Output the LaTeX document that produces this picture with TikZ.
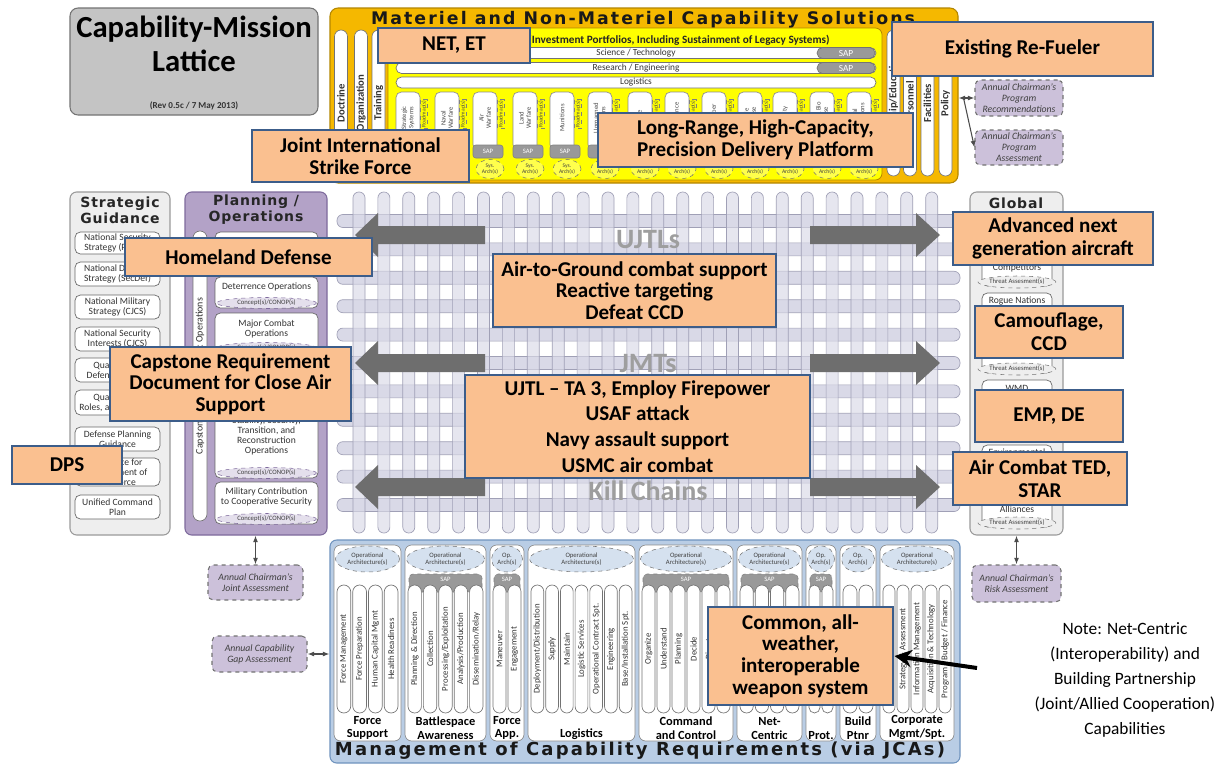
\documentclass[tikz,border=0pt]{standalone}
\usepackage{fontspec}
\setmainfont{Carlito}
\newfontfamily\widefont[LetterSpace=6]{DejaVu Sans}
\newfontfamily\widerfont[LetterSpace=12]{DejaVu Sans}
\usetikzlibrary{shapes.misc,shapes.geometric,fit,arrows.meta,calc}

\definecolor{callfill}{HTML}{FAC090}
\definecolor{callline}{HTML}{3C5D8A}
\definecolor{matgold}{HTML}{F5B800}
\definecolor{matedge}{HTML}{B38600}
\definecolor{matyellow}{HTML}{FFFF00}
\definecolor{titlegray}{HTML}{C4C4C4}
\definecolor{panelgray}{HTML}{EEEEEE}
\definecolor{paneledge}{HTML}{9A9A9A}
\definecolor{planpurple}{HTML}{B3A2C7}
\definecolor{planedge}{HTML}{7E6A9C}
\definecolor{mgmtblue}{HTML}{B9CDE5}
\definecolor{mgmtedge}{HTML}{6F93BE}
\definecolor{latfill}{HTML}{D9D9E7}
\definecolor{latline}{HTML}{A0A0B6}
\definecolor{arrowgray}{HTML}{6E6E6E}
\definecolor{assessfill}{HTML}{CCC1DA}
\definecolor{capfill}{HTML}{E4DFEC}

\tikzset{
  callout/.style={draw=callline, line width=2.2pt, fill=callfill, inner sep=0pt, align=center, text=black, font=\bfseries\fontsize{15.8}{16.3}\selectfont},
  panel/.style={draw=paneledge, line width=0.8pt, rounded corners=5pt, inner sep=0pt},
  widetitle/.style={font=\widefont\bfseries\fontsize{10.5}{12}\selectfont, align=center, text=black!85},
  itembox/.style={draw=black!60, fill=white, rounded corners=4pt, line width=0.5pt},
  itemtext/.style={font=\fontsize{7.2}{7.7}\selectfont, align=center, text=black!80},
  vpill/.style={rounded rectangle, rotate=90, draw=black!55, fill=white, inner sep=0pt, line width=0.5pt, text=black!80},
  hpill/.style={rounded rectangle, draw=black!55, fill=white, inner sep=0pt, line width=0.5pt, text=black!80, font=\fontsize{7}{7}\selectfont},
  dashell/.style={ellipse, draw=black!55, dashed, inner sep=0pt, align=center, text=black!75},
  assess/.style={draw=black!55, dashed, line width=0.8pt, fill=assessfill, rounded corners=4pt, inner sep=0pt, align=center, text=black!75, font=\itshape\fontsize{7.3}{8.3}\selectfont},
  latbar/.style={draw=latline, fill=latfill, line width=0.5pt, rounded corners=4.4pt},
  biglabel/.style={font=\bfseries\fontsize{21}{21}\selectfont, text=black!38},
  link/.style={{Latex[length=5pt]}-{Latex[length=5pt]}, draw=black!70, line width=0.8pt},
  onelink/.style={-{Latex[length=5pt]}, draw=black!70, line width=0.8pt},
}

% box node spanning two corners: style, name, x1, y1, x2, y2, text
\newcommand\boxnode[7]{%
  \node[#1, minimum width={(#5-#3)*0.75pt}, minimum height={(#6-#4)*0.75pt}] (#2) at ({(#3+#5)/2},{(#4+#6)/2}) {#7};}

% strategic guidance entry: top, bottom, text
\newcommand\sgitem[3]{%
  \draw[itembox] (75,#1) rectangle (160,#2);
  \node[itemtext] at (117.5,{(#1+#2)/2}) {#3};}

% planning entry: top, bottom, text y, text
\newcommand\pitem[4]{%
  \draw[itembox] (215,#1) rectangle (318,#2);
  \node[itemtext] at (266.5,#3) {#4};
  \node[dashell, fill=capfill, draw=planedge, minimum width=100*0.75pt, minimum height=11*0.75pt, font=\fontsize{5}{5}\selectfont] at (266.5,#2-5) {Concept(s)/CONOP(s)};}

% global threat entry: top, bottom
\newcommand\gbox[2]{%
  \draw[itembox] (982,#1) rectangle (1052,#2);
  \node[dashell, fill=panelgray, minimum width=72*0.75pt, minimum height=12*0.75pt, font=\fontsize{5}{5}\selectfont] at (1017,#2-4) {Threat Assesment(s)};}

% investment portfolio column: left x, label
\newcommand\portcol[2]{%
  \draw[itembox, draw=black!45] (#1,92) rectangle (#1+24,150);
  \node[rotate=90, font=\fontsize{5}{5.5}\selectfont, align=center, text=black!70] at (#1+12,118) {#2};
  \node[rotate=90, draw=black!50, dashed, fill=matyellow, font=\fontsize{4.2}{4.2}\selectfont, inner sep=0.6pt, text=black!70] at (#1+28,114) {Roadmap(s)};
  \draw[draw=black!50, fill=black!40, rounded corners=2pt] (#1,145) rectangle (#1+30,158);
  \node[font=\fontsize{5}{5}\selectfont, text=white] at (#1+15,151.5) {SAP};
  \node[dashell, fill=matyellow!70!white, minimum width=28*0.75pt, minimum height=19*0.75pt, font=\fontsize{4.2}{4.6}\selectfont] at (#1+17,169) {Sys.\\Arch(s)};}

% joint capability area column: x1, x2, architecture text, SAP flag, pill count, label, pills
\newcommand\jcacol[7]{%
  \draw[itembox, draw=black!45, rounded corners=5pt] (#1,545) rectangle (#2,741);
  \node[dashell, fill=mgmtblue!60, minimum width={(#2-#1-3)*0.75pt}, minimum height=26*0.75pt, font=\fontsize{5}{5.5}\selectfont] at ({(#1+#2)/2},559) {#3};
  \ifnum#4=1
    \draw[draw=black!50, dashed, fill=black!40, rounded corners=3pt] (#1+4,574) rectangle (#2-4,592);
    \node[font=\fontsize{5}{5}\selectfont, text=white] at ({(#1+#2)/2},579) {SAP};
  \fi
  \pgfmathsetmacro\pw{(#2-#1-6-(#5-1)*2)/#5}
  \foreach \t [count=\i] in {#7} {
    \pgfmathsetmacro\cx{#1+3+\pw/2+(\i-1)*(\pw+2)}
    \node[vpill, minimum width=128*0.75pt, minimum height=\pw*0.75pt, font=\fontsize{6.6}{6.6}\selectfont] at (\cx,649) {\t};
  }
  \node[font=\bfseries\fontsize{9.3}{10}\selectfont, align=center, anchor=south, inner sep=1pt] at ({(#1+#2)/2},741) {#6};}

% double-headed lattice arrows at height y
\newcommand\bigarrows[1]{%
  \fill[arrowgray] (355,#1) -- (378,#1-22) -- (378,#1-9) -- (485,#1-9) -- (485,#1+9) -- (378,#1+9) -- (378,#1+22) -- cycle;
  \fill[arrowgray] (940,#1) -- (916,#1-22) -- (916,#1-9) -- (810,#1-9) -- (810,#1+9) -- (916,#1+9) -- (916,#1+22) -- cycle;}

\begin{document}
\begin{tikzpicture}[x=0.75pt,y=-0.75pt]
\useasboundingbox (0,0) rectangle (1222,765);
\fill[white] (0,0) rectangle (1222,765);

% ---- title block
\node[fit={(70,8) (318,115)}, fill=titlegray, draw=black!55, line width=0.8pt, rounded corners=6pt, inner sep=0pt] (title) {};
\node[font=\bfseries\fontsize{23}{26}\selectfont, align=center] at (title.center |- 0,44) {Capability-Mission\\Lattice};
\node[font=\bfseries\fontsize{6.8}{7}\selectfont, text=black!80] at (title.center |- 0,106) {(Rev 0.5c / 7 May 2013)};

% ---- materiel and non-materiel solutions
\node[fit={(330,8) (958,183)}, fill=matgold, draw=matedge, line width=0.8pt, rounded corners=6pt, inner sep=0pt] (matbox) {};
\node[font=\widerfont\bfseries\fontsize{13}{13}\selectfont, text=black!90] at (643,20) {Materiel and Non-Materiel Capability Solutions};
\foreach \x/\t in {341/{Doctrine},361/{Organization},378.5/{Training},893.5/{Leadership/Education},910/{Personnel},927.5/{Facilities},945.5/{Policy}}
  \node[vpill, minimum width=146*0.75pt, minimum height=13*0.75pt, font=\bfseries\fontsize{8}{8}\selectfont] at (\x,103) {\t};
\draw[draw=matedge, fill=matyellow, rounded corners=5pt, line width=0.6pt] (388,28) rectangle (882,180);
\node[font=\bfseries\fontsize{8.4}{8.4}\selectfont, text=black!85] at (635,40) {Materiel Solutions (Investment Portfolios, Including Sustainment of Legacy Systems)};
\foreach \y/\t in {53/{Science / Technology},68/{Research / Engineering},82.5/{Logistics}}
  \node[hpill, minimum width=480*0.75pt, minimum height=11*0.75pt] at (636,\y) {\t};
\foreach \y in {53,68}
  \node[hpill, fill=black!40, minimum width=58*0.75pt, minimum height=11*0.75pt, text=white] at (846,\y) {SAP};
\portcol{396}{Strategic\\Systems}
\portcol{435}{Naval\\Warfare}
\portcol{473}{Air\\Warfare}
\portcol{513}{Land\\Warfare}
\portcol{550}{Munitions}
\portcol{588}{Unmanned\\Systems}
\portcol{628}{Space}
\portcol{665}{Intelligence}
\portcol{702}{C4 / Cyber}
\portcol{738}{Missile\\Defense}
\portcol{773}{Mobility}
\portcol{810}{Chem \& Bio\\Defense}
\portcol{847}{Special\\Operations}

% ---- strategic guidance
\node[panel, fit={(70,192) (170,535)}, fill=panelgray] (sg) {};
\node[widetitle] at (120,210) {Strategic\\Guidance};
\sgitem{232}{254}{National Security\\Strategy (POTUS)}
\sgitem{262}{286}{National Defense\\Strategy (SecDef)}
\sgitem{295}{319}{National Military\\Strategy (CJCS)}
\sgitem{327}{351}{National Security\\Interests (CJCS)}
\sgitem{358}{382}{Quadrennial\\Defense Review}
\sgitem{390}{415}{Quadrennial\\Roles, and Missions}
\sgitem{427}{451}{Defense Planning\\Guidance}
\sgitem{458}{486}{Guidance for\\Employment of\\the Force}
\sgitem{495}{519}{Unified Command\\Plan}

% ---- planning / operations
\node[panel, fit={(185,192) (327,535)}, fill=planpurple, draw=planedge] (plan) {};
\node[widetitle] at (256,210) {Planning /\\Operations};
\node[vpill, minimum width=290*0.75pt, minimum height=14*0.75pt, font=\fontsize{7.5}{7.5}\selectfont] at (200,376) {Capstone Concept for Joint Operations};
\pitem{232}{271}{247}{Homeland Defense /\\Civil Support}
\pitem{277}{308}{287}{Deterrence Operations}
\pitem{313}{353}{329}{Major Combat\\Operations}
\pitem{358}{478}{436}{Stability, Security,\\Transition, and\\Reconstruction\\Operations}
\pitem{482}{524}{497}{Military Contribution\\to Cooperative Security}

% ---- global threats
\node[panel, fit={(970,192) (1063,535)}, fill=panelgray] (glob) {};
\node[widetitle] at (1016,203) {Global};
\gbox{222}{286}
\node[itemtext] at (1017,268) {Competitors};
\gbox{293}{373}
\node[itemtext] at (1017,301) {Rogue Nations};
\gbox{380}{440}
\node[itemtext] at (1017,388) {WMD};
\gbox{445}{527}
\node[itemtext] at (1017,452) {Environmental};
\node[itemtext] at (1017,509) {Alliances};

% ---- woven lattice
\foreach \k in {0,...,10} {
  \pgfmathsetmacro\yy{221+28.4*\k}
  \draw[latbar] (337,\yy-6.5) rectangle (960,\yy+6.5);
}
\foreach \j in {0,...,23} {
  \pgfmathsetmacro\xx{359+24.9*\j}
  \draw[latbar, fill opacity=0.65] (\xx-6,192) rectangle (\xx+6,533);
}
\bigarrows{235}
\bigarrows{363}
\bigarrows{487}
\node[biglabel] (ujtls) at (648,240) {UJTLs};
\node[biglabel] (jmts) at (648,364) {JMTs};
\node[biglabel] (kill) at (648,491) {Kill Chains};

% ---- management of capability requirements
\node[panel, fit={(330,540) (960,763)}, fill=mgmtblue, draw=mgmtedge] (mgmt) {};
\node[font=\widerfont\bfseries\fontsize{13.5}{13.5}\selectfont, text=black!90] at (640,751) {Management of Capability Requirements (via JCAs)};
\jcacol{334}{401}{Operational\\Architecture(s)}{0}{4}{Force\\Support}{Force Management,Force Preparation,Human Capital Mgmt,Health Readiness}
\jcacol{405}{486}{Operational\\Architecture(s)}{1}{5}{Battlespace\\Awareness}{Planning \& Direction,Collection,Processing/Exploitation,Analysis/Production,Dissemination/Relay}
\jcacol{490}{524}{Op.\\Arch(s)}{1}{2}{Force\\App.}{Maneuver,Engagement}
\jcacol{528}{635}{Operational\\Architecture(s)}{0}{7}{Logistics}{Deployment/Distribution,Supply,Maintain,Logistic Services,Operational Contract Spt.,Engineering,Base/Installation Spt.}
\jcacol{639}{733}{Operational\\Architecture(s)}{1}{6}{Command\\and Control}{Organize,Understand,Planning,Decide,Direct,Monitor}
\jcacol{737}{802}{Operational\\Architecture(s)}{1}{4}{Net-\\Centric}{Information Transport,Enterprise Services,Net Management,Information Assurance}
\jcacol{806}{836}{Op.\\Arch(s)}{1}{2}{Prot.}{Prevent,Mitigate}
\jcacol{840}{876}{Op.\\Arch(s)}{0}{2}{Build\\Ptnr}{Communicate,Shape}
\jcacol{880}{954}{Operational\\Architecture(s)}{0}{5}{Corporate\\Mgmt/Spt.}{Advisory \& Compliance,Strategy \& Assessment,Information Management,Acquisition \& Technology,Program / Budget / Finance}

% ---- annual assessments
\boxnode{assess}{acpr}{975}{80}{1063}{116}{Annual Chairman's\\Program\\Recommendations}
\boxnode{assess}{acpa}{975}{130}{1063}{165}{Annual Chairman's\\Program\\Assessment}
\boxnode{assess}{acja}{208}{565}{303}{600}{Annual Chairman's\\Joint Assessment}
\boxnode{assess}{acga}{212}{636}{307}{672}{Annual Capability\\Gap Assessment}
\boxnode{assess}{acra}{972}{565}{1061}{602}{Annual Chairman's\\Risk Assessment}
\coordinate (hub) at ($(acpr.west -| matbox.east)+(5,0)$);
\draw[link] (acpr.west -| matbox.east) -- (acpr.west);
\draw[onelink] (hub) -- (acpa.west);
\draw[link] (acja.north |- plan.south) -- (acja.north);
\draw[link] (acga.east) -- (acga.east -| mgmt.west);
\draw[link] (acra.north |- glob.south) -- (acra.north);

% ---- note
\node[font=\fontsize{13}{18.75}\selectfont, align=center] (note) at (1125,680) {Note: Net-Centric\\(Interoperability) and\\Building Partnership\\(Joint/Allied Cooperation)\\Capabilities};

% ---- callouts
\boxnode{callout}{netet}{378}{28}{530}{63}{NET, ET}
\boxnode{callout}{refuel}{892}{22}{1153}{76}{Existing Re-Fueler}
\boxnode{callout}{jisf}{252}{130}{469}{182}{Joint International\\Strike Force}
\boxnode{callout}{lrhc}{598}{113}{913}{167}{Long-Range, High-Capacity,\\Precision Delivery Platform}
\boxnode{callout}{hld}{125}{238}{372}{276}{Homeland Defense}
\boxnode{callout}{crd}{110}{347}{351}{421}{Capstone Requirement\\Document for Close Air\\Support}
\boxnode{callout}{dps}{12}{446}{122}{484}{DPS}
\boxnode{callout}{atg}{493}{254}{776}{327}{Air-to-Ground combat support\\Reactive targeting\\Defeat CCD}
\boxnode{callout}{ujtl}{465}{375}{810}{478}{UJTL -- TA 3, Employ Firepower\\[3pt]USAF attack\\[3pt]Navy assault support\\[3pt]USMC air combat}
\boxnode{callout}{adv}{953}{212}{1153}{265}{Advanced next\\[1pt]generation aircraft}
\boxnode{callout}{camo}{975}{306}{1123}{358}{Camouflage,\\[1pt]CCD}
\boxnode{callout}{emp}{975}{390}{1123}{442}{EMP, DE}
\boxnode{callout}{actd}{953}{452}{1127}{505}{Air Combat TED,\\[1pt]STAR}
\boxnode{callout}{cmn}{708}{607}{893}{705}{Common, all-\\weather,\\interoperable\\weapon system}

\coordinate (notetail) at (977,668);
\draw[line width=3pt, -{Stealth[length=13pt,width=13pt]}] (notetail) -- (cmn.east);
\end{tikzpicture}
\end{document}
